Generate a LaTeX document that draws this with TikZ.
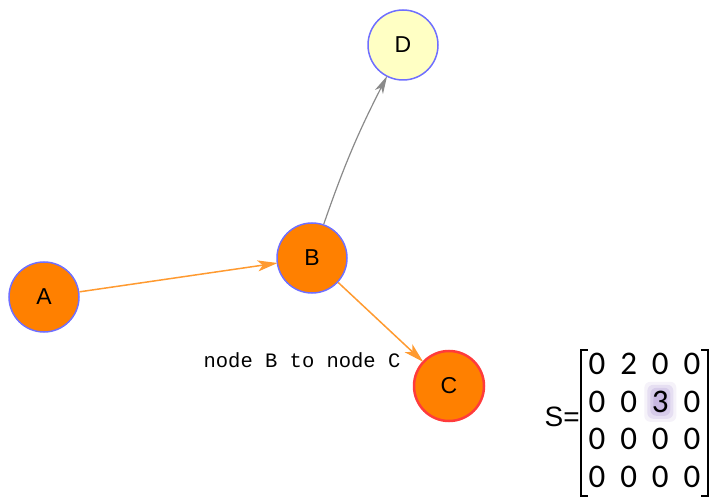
\documentclass[tikz,border=0pt]{standalone}
\usepackage{fontspec}
\setmainfont{Liberation Sans}
\newfontfamily\labelfont{Liberation Mono}
\newfontfamily\digitfont{Carlito}
\usetikzlibrary{arrows.meta, positioning, calc, matrix, backgrounds}
\definecolor{nodeorange}{HTML}{FF8000}
\definecolor{nodeblue}{HTML}{6F6FFF}
\definecolor{nodered}{HTML}{FF3B3B}
\definecolor{nodeyellow}{HTML}{FFFFC4}
\definecolor{edgeorange}{HTML}{FF9A30}
\definecolor{edgegray}{HTML}{8A8A8A}
\definecolor{markpurple}{HTML}{B9A6DA}

\begin{document}
\begin{tikzpicture}[
    x=1pt, y=-1pt,
    every node/.style={font=\fontsize{23}{26}\selectfont},
    >={Stealth[length=20pt, width=11pt, inset=5pt]},
    vertex/.style={circle, draw=nodeblue, fill=nodeorange, line width=1.5pt, minimum size=70pt, inner sep=0pt},
    link/.style={->, draw=edgeorange, line width=1.5pt, shorten >=-1pt},
    cell/.style={minimum width=31.7pt, minimum height=37.5pt, inner sep=0pt, font=\digitfont\fontsize{33}{36}\selectfont},
    bracket/.style={line width=2pt},
]

% Canvas
\useasboundingbox (0,0) rectangle (715,497);

% === Graph nodes ===
\node[vertex] (A) at (44,297) {A};
\node[vertex] (B) at (312,258) {B};
\node[vertex, draw=nodered, line width=2.5pt] (C) at (449,386) {C};
\node[vertex, fill=nodeyellow] (D) at (403,45) {D};

% === Edges ===
\draw[link] (A) -- (B);
\draw[link] (B) -- (C)
      node[at end, anchor=east, xshift=-18pt, yshift=1pt, font=\labelfont\fontsize{20.5}{22}\selectfont] (lbl) {node B to node C};
\draw[link, draw=edgegray, line width=1.2pt, >={Stealth[length=18pt, width=9pt, inset=5pt]}] (B) to[bend left=4] (D);

% === Matrix S ===
\matrix[matrix of nodes, nodes={cell}, column sep=0pt, row sep=0pt, inner sep=0pt] (S) at (644.5,420.5) {
    0 & 2 & 0 & 0 \\
    0 & 0 & 3 & 0 \\
    0 & 0 & 0 & 0 \\
    0 & 0 & 0 & 0 \\
};
\node[anchor=east, font=\fontsize{28}{30}\selectfont, inner sep=0pt] (Slabel) at ([xshift=-1pt, yshift=4pt]S.west) {S=};

% brackets
\draw[bracket] ([xshift=7pt, yshift=-5pt]S.north west) -- ([yshift=-5pt]S.north west) -- (S.south west) -- ([xshift=7pt]S.south west);
\draw[bracket] ([xshift=-7pt, yshift=-5pt]S.north east) -- ([yshift=-5pt]S.north east) -- (S.south east) -- ([xshift=-7pt]S.south east);

% highlighted entry
\begin{scope}[on background layer]
  \foreach \r/\o in {18/0.15, 15/0.25, 12/0.35, 9/0.5} {
    \fill[markpurple, opacity=\o, rounded corners=6pt] ($(S-2-3.center)+(-\r+2,-\r-2)$) rectangle ($(S-2-3.center)+(\r-2,\r+2)$);
  }
\end{scope}

\end{tikzpicture}
\end{document}
